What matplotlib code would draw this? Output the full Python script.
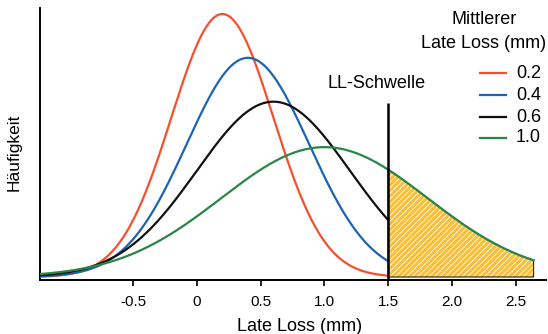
import numpy as np
import matplotlib
matplotlib.use("Agg")
import matplotlib.pyplot as plt
from matplotlib.lines import Line2D

plt.rcParams['font.family'] = ['Liberation Sans', 'DejaVu Sans']
plt.rcParams['hatch.linewidth'] = 0.6

# Data: mean late loss and spread of each distribution
means = [0.2, 0.4, 0.6, 1.0]
sds = [0.40, 0.48, 0.60, 0.81]
labels = ["0.2", "0.4", "0.6", "1.0"]
colors = ["#F5502E", "#1D63B5", "#111111", "#2A8546"]
threshold = 1.5
x_start, x_end = -1.23, 2.64
xticks = [-0.5, 0, 0.5, 1.0, 1.5, 2.0, 2.5]
xticklabels = ["-0.5", "0", "0.5", "1.0", "1.5", "2.0", "2.5"]

W, H = 548, 334


def pdf(x, m, s):
    return np.exp(-0.5 * ((x - m) / s) ** 2) / (s * np.sqrt(2 * np.pi))


def fx(px):
    return px / W


def fy(py):
    return 1 - py / H


fig = plt.figure(figsize=(W / 100, H / 100), dpi=100)
ax = fig.add_axes([fx(40), fy(280), (546 - 40) / W, (280 - 8) / H])

ymax_pdf = pdf(0, 0, sds[0])
px_per = 263 / ymax_pdf
ax.set_ylim(-3 / px_per, 269 / px_per)
ax.set_xlim(x_start, (546 - 197) / 127.5)

for m, s, c, lab in zip(means, sds, colors, labels):
    xe = x_end if lab == "1.0" else threshold
    x = np.linspace(x_start, xe, 600)
    ax.plot(x, pdf(x, m, s), color=c, lw=1.6, zorder=4)

# shaded tail of the 1.0 distribution beyond the threshold
xt = np.linspace(threshold, x_end, 300)
yt = pdf(xt, means[3], sds[3])
ax.fill_between(xt, 0, yt, facecolor="#FDBE35", edgecolor="white", hatch="//////",
                linewidth=0, zorder=2)
ax.fill_between(xt, 0, yt, facecolor="none", edgecolor="#222222", linewidth=0.8, zorder=3)

# threshold line
ax.plot([threshold, threshold], [ax.get_ylim()[0], (277 - 103) / px_per], color="black",
        lw=1.8, zorder=5, solid_capstyle="butt")
ax.text((376.5 - 197) / 127.5, (277 - 84) / px_per, "LL-Schwelle", ha="center",
        va="center", fontsize=13)

for side in ["top", "right"]:
    ax.spines[side].set_visible(False)
ax.spines["left"].set_linewidth(1.4)
ax.spines["bottom"].set_linewidth(1.4)
ax.set_yticks([])
ax.set_xticks(xticks)
ax.set_xticklabels(xticklabels, fontsize=11)
ax.tick_params(axis="x", direction="out", length=4.5, width=1.2, pad=6)

ax.set_ylabel("Häufigkeit", fontsize=12.5)
ax.yaxis.set_label_coords(-0.036, 0.47)
ax.set_xlabel("")
fig.text(fx(300), fy(331), "Late Loss (mm)", ha="center", va="baseline", fontsize=13)

# legend drawn by hand to follow the reference layout
fig.text(fx(484), fy(20), "Mittlerer", ha="center", va="center", fontsize=13)
fig.text(fx(484), fy(44), "Late Loss (mm)", ha="center", va="center", fontsize=13)
leg_y = [73, 95, 117, 138]
for c, lab, yy in zip(colors, labels, leg_y):
    fig.add_artist(Line2D([fx(480), fx(506)], [fy(yy), fy(yy)], color=c, lw=1.6,
                          transform=fig.transFigure))
    fig.text(fx(516), fy(yy), lab, ha="left", va="center", fontsize=13)

fig.savefig("out.png", dpi=100)
